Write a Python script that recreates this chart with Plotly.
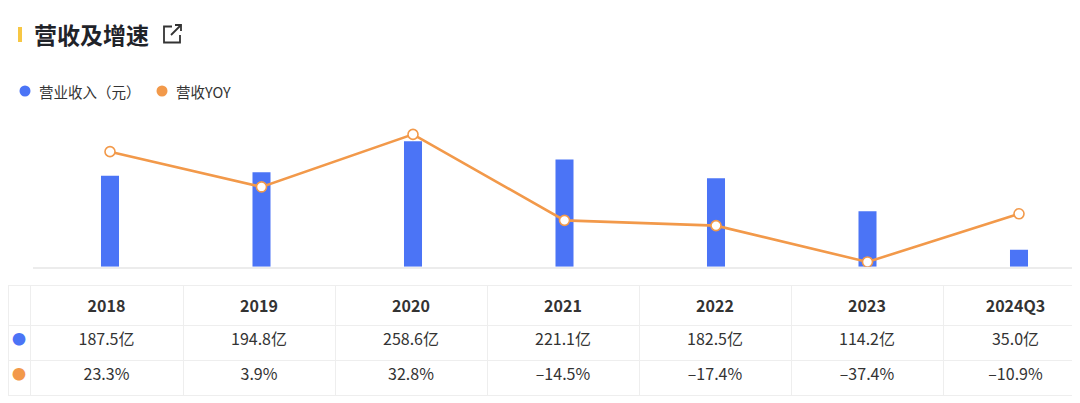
import plotly.graph_objects as go

# dati
years = ["2018", "2019", "2020", "2021", "2022", "2023", "2024Q3"]
revenue = [187.5, 194.8, 258.6, 221.1, 182.5, 114.2, 35.0]   # 亿元
yoy = [23.3, 3.9, 32.8, -14.5, -17.4, -37.4, -10.9]          # %

W, H = 1080, 403
OFF = 8  # margine del body della pagina html
BLUE = "#4B74F6"
ORANGE = "#F2994A"
TEXT = "#333333"
FONT = "Noto Sans CJK SC"


def px(x):
    # pixel dello screenshot -> coordinate paper
    return (x - OFF) / W


def py(y):
    return 1 - (y - OFF) / H


idx = list(range(len(years)))
x0_c, step = 110 - OFF, 151.5   # centro della prima categoria, passo

fig = go.Figure()

fig.add_trace(go.Bar(
    x=idx, y=revenue, width=0.119,
    marker=dict(color=BLUE, line=dict(width=0)),
    name="营业收入（元）", showlegend=False,
))
fig.add_trace(go.Scatter(
    x=idx, y=yoy, yaxis="y2", mode="lines+markers",
    line=dict(color=ORANGE, width=2.6),
    marker=dict(size=10, color="white", line=dict(color=ORANGE, width=1.6)),
    name="营收YOY", showlegend=False,
))

# tabella sotto il grafico
rev_txt = [f"{v:.1f}亿" for v in revenue]
yoy_txt = [f"{v:.1f}%".replace("-", "–") for v in yoy]
col_vals = [["●", "●"]] + [[r, g] for r, g in zip(rev_txt, yoy_txt)]
col_colors = [[BLUE, ORANGE]] + [[TEXT, TEXT] for _ in years]
col_sizes = [14] + [16 for _ in years]

fig.add_trace(go.Table(
    domain=dict(x=[0, 1], y=[0, py(285)]),
    columnwidth=[22, 153, 152, 152, 152, 152, 152, 145],
    header=dict(
        values=[""] + [f"<b>{y}</b>" for y in years],
        height=36, align="center",
        fill_color="white", line=dict(color="#eeeeee", width=1),
        font=dict(family=FONT, size=16, color=TEXT),
    ),
    cells=dict(
        values=col_vals,
        height=35, align="center",
        fill_color="white", line=dict(color="#eeeeee", width=1),
        font=dict(family=FONT, size=col_sizes, color=col_colors),
    ),
))

shapes = [
    # barretta gialla del titolo
    dict(type="rect", xref="paper", yref="paper",
         x0=px(18), x1=px(22), y0=py(42), y1=py(27),
         fillcolor="#F7C744", line=dict(width=0)),
    # icona link esterno
    dict(type="path", xref="paper", yref="paper",
         path=(f"M {px(172)},{py(26.5)} L {px(164)},{py(26.5)} L {px(164)},{py(42.5)} "
               f"L {px(180)},{py(42.5)} L {px(180)},{py(35)}"),
         line=dict(color=TEXT, width=1.8)),
    dict(type="path", xref="paper", yref="paper",
         path=f"M {px(171)},{py(35)} L {px(181)},{py(25)}",
         line=dict(color=TEXT, width=1.8)),
    dict(type="path", xref="paper", yref="paper",
         path=f"M {px(175)},{py(25)} L {px(181)},{py(25)} L {px(181)},{py(31)}",
         line=dict(color=TEXT, width=1.8)),
    # pallini legenda
    dict(type="circle", xref="paper", yref="paper",
         x0=px(19.5), x1=px(30.5), y0=py(96.5), y1=py(85.5),
         fillcolor=BLUE, line=dict(width=0)),
    dict(type="circle", xref="paper", yref="paper",
         x0=px(156.5), x1=px(167.5), y0=py(96.5), y1=py(85.5),
         fillcolor=ORANGE, line=dict(width=0)),
]

annotations = [
    dict(text="<b>营收及增速</b>", xref="paper", yref="paper",
         x=px(32), y=py(34), xanchor="left", yanchor="middle", showarrow=False,
         font=dict(family=FONT, size=23, color="#1f2329")),
    dict(text="营业收入（元）", xref="paper", yref="paper",
         x=px(37), y=py(91), xanchor="left", yanchor="middle", showarrow=False,
         font=dict(family=FONT, size=14.5, color=TEXT)),
    dict(text="营收YOY", xref="paper", yref="paper",
         x=px(174), y=py(91), xanchor="left", yanchor="middle", showarrow=False,
         font=dict(family=FONT, size=14.5, color=TEXT)),
]

ax_left = 33 - OFF
fig.update_layout(
    width=W, height=H,
    margin=dict(l=0, r=0, t=0, b=0),
    paper_bgcolor="white", plot_bgcolor="white",
    font=dict(family=FONT, color=TEXT),
    showlegend=False,
    xaxis=dict(domain=[ax_left / W, 1],
               range=[(ax_left - x0_c) / step, (W - x0_c) / step],
               showgrid=False, zeroline=False, showticklabels=False,
               showline=True, linecolor="#ececec", linewidth=1.5, fixedrange=True),
    yaxis=dict(domain=[py(266.7), py(121.3)], range=[0, 300],
               showgrid=False, zeroline=False, showticklabels=False, fixedrange=True),
    yaxis2=dict(overlaying="y", range=[-40, 40],
                showgrid=False, zeroline=False, showticklabels=False, fixedrange=True),
    shapes=shapes,
    annotations=annotations,
)

fig.write_html("out.html")
